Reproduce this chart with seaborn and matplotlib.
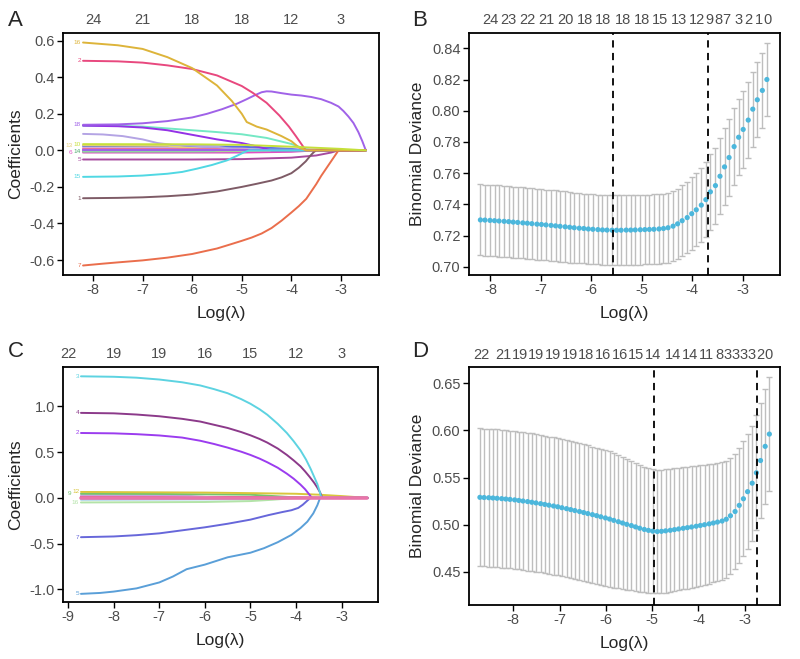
import numpy as np
import pandas as pd
import matplotlib
matplotlib.use("Agg")
import matplotlib.pyplot as plt
import seaborn as sns

sns.set_style("white")
plt.rcParams["font.family"] = ["Liberation Sans", "DejaVu Sans"]
plt.rcParams["axes.unicode_minus"] = False

# ---------------- panel A : coefficient paths ----------------
a_tags = ["6", "", "", "", "14", "", "", "13", "", "", "", "", "", "",
          "5", "15", "1", "7", "18", "2", "16", "10"]
a_tag_col = [1, 0, 0, 0, 0, 0, 0, 1, 0, 0, 0, 0, 0, 0,
             0, 0, 0, 0, 0, 0, 0, 0]
a_colors = ["#E04FC4", "#F1A9D6", "#D4B0E4", "#5C72E0", "#4DA96C", "#A3C4D6",
            "#8ED7A0", "#E6CF7C", "#E8719A", "#B4A4E4", "#74E8C4", "#9432E6",
            "#A062E8", "#A062E8", "#A64A9E", "#50D8E3", "#7E5B66", "#EA6E4C",
            "#A062E8", "#E8487E", "#DDB43A", "#C5E03A"]
a_x = [
    [-8.2, -5.0, -4.0, -3.5, -2.5],
    [-8.2, -5.0, -3.5, -3.0, -2.5],
    [-8.2, -6.0, -4.5, -4.0, -2.5],
    [-8.2, -6.0, -5.0, -4.0, -3.8, -2.5],
    [-8.2, -6.0, -5.0, -4.5, -2.5],
    [-8.2, -5.0, -3.0, -2.5],
    [-8.2, -6.0, -5.0, -4.5, -2.5],
    [-8.2, -6.5, -5.5, -2.5],
    [-8.2, -5.5, -4.5, -2.5],
    [-8.2, -7.8, -7.4, -7.0, -6.7, -6.4, -6.0, -5.5, -5.0, -2.5],
    [-8.2, -7.5, -7.0, -6.5, -6.0, -5.5, -5.0, -4.5, -4.0, -3.75, -3.6, -2.5],
    [-8.2, -7.5, -7.0, -6.5, -6.0, -5.5, -5.0, -4.8, -4.6, -4.4, -2.5],
    [-8.2, -2.5],
    [-8.2, -2.5],
    [-8.2, -7.0, -6.0, -5.0, -4.0, -3.5, -3.2, -3.05, -2.5],
    [-8.2, -7.5, -7.0, -6.5, -6.2, -5.9, -5.6, -5.3, -5.1, -4.95, -4.85, -2.5],
    [-8.2, -7.5, -7.0, -6.5, -6.0, -5.5, -5.0, -4.7, -4.4, -4.2, -4.0, -3.85, -3.71,
     -3.62, -3.55, -3.5, -2.5],
    [-8.2, -7.8, -7.5, -7.0, -6.5, -6.0, -5.5, -5.2, -5.0, -4.8, -4.6, -4.4, -4.2,
     -4.0, -3.85, -3.7, -3.6, -3.5, -3.4, -3.3, -3.2, -3.1, -3.05, -2.5],
    [-8.2, -7.5, -7.0, -6.5, -6.0, -5.7, -5.4, -5.1, -4.9, -4.75, -4.6, -4.5, -4.4,
     -4.2, -4.0, -3.8, -3.6, -3.4, -3.2, -3.05, -2.95, -2.85, -2.75, -2.65, -2.57, -2.5],
    [-8.2, -7.5, -7.0, -6.5, -6.0, -5.5, -5.0, -4.78, -4.5, -4.24, -4.05, -3.91,
     -3.8, -3.71, -2.5],
    [-8.2, -7.5, -7.0, -6.5, -6.0, -5.5, -5.2, -5.0, -4.9, -4.7, -4.5, -4.2, -4.0,
     -3.84, -3.7, -2.5],
    [-8.2, -6.0, -5.0, -4.0, -3.0, -2.5],
]
a_y = [
    [-0.012, -0.012, -0.008, 0.0, 0.0],
    [0.012, 0.011, 0.006, 0.0, 0.0],
    [0.018, 0.017, 0.008, 0.0, 0.0],
    [0.024, 0.023, 0.02, 0.008, 0.0, 0.0],
    [-0.004, -0.004, -0.003, 0.0, 0.0],
    [0.004, 0.004, 0.002, 0.0],
    [-0.007, -0.006, -0.004, 0.0, 0.0],
    [0.028, 0.025, 0.0, 0.0],
    [0.008, 0.007, 0.0, 0.0],
    [0.09, 0.087, 0.078, 0.06, 0.04, 0.03, 0.025, 0.02, 0.0, 0.0],
    [0.135, 0.134, 0.13, 0.12, 0.11, 0.1, 0.088, 0.068, 0.035, 0.01, 0.0, 0.0],
    [0.135, 0.132, 0.125, 0.11, 0.085, 0.06, 0.04, 0.028, 0.015, 0.0, 0.0],
    [0.0, 0.0],
    [0.0, 0.0],
    [-0.05, -0.05, -0.05, -0.048, -0.04, -0.028, -0.012, 0.0, 0.0],
    [-0.145, -0.143, -0.138, -0.128, -0.118, -0.1, -0.08, -0.055, -0.03, -0.01, 0.0, 0.0],
    [-0.262, -0.26, -0.257, -0.251, -0.242, -0.225, -0.2, -0.183, -0.165, -0.148,
     -0.125, -0.095, -0.06, -0.03, -0.01, 0.0, 0.0],
    [-0.63, -0.62, -0.613, -0.602, -0.587, -0.567, -0.537, -0.512, -0.495, -0.477,
     -0.455, -0.425, -0.385, -0.34, -0.305, -0.265, -0.225, -0.185, -0.14, -0.1,
     -0.06, -0.02, 0.0, 0.0],
    [0.14, 0.142, 0.148, 0.16, 0.18, 0.2, 0.225, 0.255, 0.28, 0.3, 0.318, 0.323,
     0.322, 0.313, 0.305, 0.3, 0.292, 0.28, 0.26, 0.24, 0.215, 0.185, 0.15, 0.1,
     0.05, 0.0],
    [0.49, 0.487, 0.48, 0.465, 0.445, 0.41, 0.352, 0.315, 0.26, 0.19, 0.13, 0.078,
     0.035, 0.0, 0.0],
    [0.59, 0.575, 0.555, 0.51, 0.45, 0.355, 0.27, 0.2, 0.155, 0.13, 0.114, 0.078,
     0.05, 0.014, 0.0, 0.0],
    [0.034, 0.033, 0.03, 0.02, 0.008, 0.0],
]
a_top_pos = [-8, -7, -6, -5, -4, -3]
a_top_lab = ["24", "21", "18", "18", "12", "3"]

# ---------------- panel C : coefficient paths ----------------
c_tags = ["", "", "", "16", "9", "12", "7", "5", "2", "4", "3", ""]
c_tag_col = [0, 0, 0, 0, 1, 0, 0, 0, 0, 0, 0, 0]
c_colors = ["#9CCBE3", "#E8416F", "#C9A0DC", "#B3E3A8", "#74C46E", "#D9C63C",
            "#6767DA", "#5A9FD8", "#9B3CEF", "#8C3A8A", "#5DD3E1", "#E874AA"]
c_x = [
    [-8.72, -5.0, -4.0, -2.43],
    [-8.72, -5.0, -4.0, -3.5, -2.43],
    [-8.72, -7.0, -6.3, -5.8, -5.5, -2.43],
    [-8.72, -6.0, -5.0, -4.5, -4.0, -2.43],
    [-8.72, -7.0, -5.0, -4.5, -4.0, -3.8, -2.43],
    [-8.72, -6.0, -5.0, -4.0, -3.5, -3.0, -2.43],
    [-8.72, -8.0, -7.5, -7.0, -6.5, -6.0, -5.5, -5.0, -4.6, -4.3, -4.1, -3.95, -3.85,
     -3.75, -3.68, -2.43],
    [-8.72, -8.3, -8.0, -7.5, -7.0, -6.7, -6.4, -6.0, -5.5, -5.0, -4.7, -4.4, -4.1,
     -3.9, -3.75, -3.62, -3.53, -3.47, -2.43],
    [-8.72, -8.0, -7.5, -7.0, -6.5, -6.1, -5.8, -5.5, -5.2, -5.0, -4.8, -4.63, -4.4,
     -4.2, -4.05, -3.9, -3.8, -3.72, -3.65, -2.43],
    [-8.72, -8.0, -7.5, -7.0, -6.5, -6.1, -5.8, -5.5, -5.2, -5.0, -4.8, -4.63, -4.4,
     -4.2, -4.05, -3.9, -3.8, -3.7, -3.6, -3.54, -3.47, -3.42, -2.43],
    [-8.72, -8.0, -7.5, -7.0, -6.5, -6.1, -5.8, -5.5, -5.2, -5.0, -4.8, -4.63, -4.4,
     -4.2, -4.05, -3.9, -3.78, -3.68, -3.6, -3.53, -3.48, -3.44, -2.43],
    [-8.72, -2.43],
]
c_y = [
    [-0.02, -0.015, 0.0, 0.0],
    [0.012, 0.01, 0.006, 0.0, 0.0],
    [0.03, 0.028, 0.02, 0.005, 0.0, 0.0],
    [-0.05, -0.045, -0.035, -0.02, 0.0, 0.0],
    [0.045, 0.043, 0.035, 0.02, 0.005, 0.0, 0.0],
    [0.065, 0.058, 0.052, 0.045, 0.035, 0.02, 0.0],
    [-0.43, -0.422, -0.408, -0.388, -0.355, -0.322, -0.283, -0.238, -0.188, -0.155,
     -0.135, -0.11, -0.075, -0.03, 0.0, 0.0],
    [-1.05, -1.04, -1.025, -0.99, -0.925, -0.86, -0.78, -0.73, -0.65, -0.6, -0.55,
     -0.485, -0.405, -0.33, -0.26, -0.17, -0.08, 0.0, 0.0],
    [0.71, 0.706, 0.697, 0.683, 0.66, 0.625, 0.59, 0.55, 0.505, 0.47, 0.43, 0.39,
     0.33, 0.265, 0.21, 0.145, 0.095, 0.045, 0.0, 0.0],
    [0.93, 0.925, 0.912, 0.893, 0.865, 0.835, 0.8, 0.765, 0.72, 0.685, 0.645, 0.605,
     0.54, 0.47, 0.41, 0.345, 0.29, 0.23, 0.165, 0.12, 0.06, 0.0, 0.0],
    [1.33, 1.325, 1.315, 1.295, 1.265, 1.23, 1.19, 1.145, 1.08, 1.03, 0.97, 0.91,
     0.81, 0.71, 0.62, 0.52, 0.42, 0.32, 0.23, 0.15, 0.07, 0.0, 0.0],
    [0.0, 0.0],
]
c_top_pos = [-9, -8, -7, -6, -5, -4, -3]
c_top_lab = ["22", "19", "19", "16", "15", "12", "3"]

# ---------------- panel B : cross-validation ----------------
b_loglam = [-8.20, -8.11, -8.01, -7.92, -7.83, -7.73, -7.64, -7.55, -7.46, -7.36,
            -7.27, -7.18, -7.08, -6.99, -6.90, -6.80, -6.71, -6.62, -6.52, -6.43,
            -6.34, -6.24, -6.15, -6.06, -5.97, -5.87, -5.78, -5.69, -5.59, -5.50,
            -5.41, -5.31, -5.22, -5.13, -5.03, -4.94, -4.85, -4.76, -4.66, -4.57,
            -4.48, -4.38, -4.29, -4.20, -4.10, -4.01, -3.92, -3.82, -3.73, -3.64,
            -3.54, -3.45, -3.36, -3.27, -3.17, -3.08, -2.99, -2.89, -2.80, -2.71,
            -2.61, -2.52]
b_mean = [0.7300, 0.7299, 0.7297, 0.7295, 0.7293, 0.7291, 0.7289, 0.7286, 0.7284, 0.7281,
          0.7279, 0.7276, 0.7273, 0.7271, 0.7268, 0.7265, 0.7262, 0.7259, 0.7256, 0.7253,
          0.7250, 0.7247, 0.7245, 0.7242, 0.7240, 0.7238, 0.7236, 0.7235, 0.7234, 0.7234,
          0.7234, 0.7235, 0.7235, 0.7236, 0.7237, 0.7238, 0.7239, 0.7240, 0.7242, 0.7245,
          0.7250, 0.7260, 0.7275, 0.7295, 0.7315, 0.7340, 0.7365, 0.7395, 0.7430, 0.7480,
          0.7520, 0.7580, 0.7640, 0.7700, 0.7770, 0.7830, 0.7880, 0.7940, 0.8010, 0.8070,
          0.8130, 0.8200]
b_se = [0.0228, 0.0228, 0.0228, 0.0228, 0.0228, 0.0228, 0.0228, 0.0228, 0.0228, 0.0228,
        0.0227, 0.0227, 0.0227, 0.0227, 0.0227, 0.0227, 0.0227, 0.0227, 0.0227, 0.0227,
        0.0225, 0.0225, 0.0224, 0.0224, 0.0224, 0.0223, 0.0223, 0.0223, 0.0223, 0.0223,
        0.0223, 0.0223, 0.0223, 0.0223, 0.0223, 0.0223, 0.0223, 0.0223, 0.0223, 0.0223,
        0.0224, 0.0225, 0.0226, 0.0228, 0.0230, 0.0232, 0.0235, 0.0238, 0.0240, 0.0242,
        0.0244, 0.0245, 0.0246, 0.0246, 0.0246, 0.0245, 0.0244, 0.0243, 0.0241, 0.0240,
        0.0238, 0.0236]
b_vlines = [-5.57, -3.69]
b_top_pos = [-8.01, -7.64, -7.27, -6.89, -6.51, -6.13, -5.77, -5.38, -5.00, -4.63,
             -4.26, -3.90, -3.65, -3.49, -3.33, -3.09, -2.89, -2.68, -2.50]
b_top_lab = ["24", "23", "22", "21", "20", "18", "18", "18", "18", "15",
             "13", "12", "9", "8", "7", "3", "2", "1", "0"]

# ---------------- panel D : cross-validation ----------------
d_loglam = [-8.72, -8.63, -8.53, -8.44, -8.35, -8.25, -8.16, -8.07, -7.97, -7.88,
            -7.79, -7.69, -7.60, -7.51, -7.41, -7.32, -7.23, -7.13, -7.04, -6.95,
            -6.85, -6.76, -6.67, -6.57, -6.48, -6.39, -6.29, -6.20, -6.11, -6.01,
            -5.92, -5.83, -5.73, -5.64, -5.55, -5.45, -5.36, -5.27, -5.17, -5.08,
            -4.99, -4.89, -4.80, -4.71, -4.61, -4.52, -4.43, -4.33, -4.24, -4.15,
            -4.05, -3.96, -3.87, -3.77, -3.68, -3.59, -3.49, -3.40, -3.31, -3.21,
            -3.12, -3.03, -2.94, -2.84, -2.75, -2.66, -2.56, -2.47]
d_mean = [0.5290, 0.5288, 0.5286, 0.5283, 0.5280, 0.5276, 0.5272, 0.5268, 0.5263, 0.5257,
          0.5251, 0.5245, 0.5238, 0.5231, 0.5223, 0.5215, 0.5207, 0.5198, 0.5190, 0.5180,
          0.5170, 0.5160, 0.5150, 0.5140, 0.5129, 0.5118, 0.5107, 0.5096, 0.5084, 0.5072,
          0.5060, 0.5046, 0.5032, 0.5018, 0.5004, 0.4991, 0.4977, 0.4963, 0.4950, 0.4940,
          0.4932, 0.4928, 0.4930, 0.4935, 0.4941, 0.4948, 0.4955, 0.4962, 0.4969, 0.4976,
          0.4984, 0.4992, 0.5000, 0.5009, 0.5018, 0.5028, 0.5039, 0.5058, 0.5095, 0.5140,
          0.5205, 0.5275, 0.5350, 0.5440, 0.5550, 0.5680, 0.5830, 0.5960]
d_se = [0.0730, 0.0730, 0.0730, 0.0730, 0.0730, 0.0730, 0.0730, 0.0730, 0.0730, 0.0730,
        0.0730, 0.0730, 0.0729, 0.0729, 0.0728, 0.0728, 0.0727, 0.0727, 0.0726, 0.0726,
        0.0725, 0.0725, 0.0724, 0.0724, 0.0723, 0.0722, 0.0721, 0.0720, 0.0719, 0.0718,
        0.0716, 0.0712, 0.0706, 0.0699, 0.0692, 0.0685, 0.0678, 0.0671, 0.0665, 0.0660,
        0.0657, 0.0655, 0.0654, 0.0653, 0.0652, 0.0651, 0.0650, 0.0648, 0.0646, 0.0644,
        0.0642, 0.0640, 0.0637, 0.0634, 0.0630, 0.0626, 0.0622, 0.0618, 0.0614, 0.0611,
        0.0610, 0.0610, 0.0609, 0.0608, 0.0608, 0.0607, 0.0606, 0.0605]
d_vlines = [-4.96, -2.73]
d_top_pos = [-8.68, -8.22, -7.86, -7.50, -7.14, -6.78, -6.42, -6.06, -5.70, -5.34,
             -4.98, -4.54, -4.18, -3.82, -3.55, -3.37, -3.195, -3.02, -2.845, -2.665, -2.485]
d_top_lab = ["22", "21", "19", "19", "19", "19", "18", "16", "16", "15",
             "14", "14", "14", "11", "8", "3", "3", "3", "3", "2", "0"]

TICK_GREY = "#4d4d4d"
TAG_STEP = 0.17


def style_axes(ax, xlim, ylim, xticks, yticks, yfmt, ylabel, top_pos, top_lab):
    ax.set_xlim(xlim)
    ax.set_ylim(ylim)
    ax.set_xticks(xticks)
    ax.set_xticklabels([str(t) for t in xticks])
    ax.set_yticks(yticks)
    ax.set_yticklabels([yfmt % v for v in yticks])
    ax.set_xlabel("Log(λ)", fontsize=12.5, labelpad=6)
    ax.set_ylabel(ylabel, fontsize=12.5, labelpad=5)
    for s in ax.spines.values():
        s.set_visible(True)
        s.set_linewidth(1.3)
        s.set_color("black")
    ax.tick_params(axis="both", direction="out", length=4, width=1, color="black",
                   labelsize=10.5, labelcolor=TICK_GREY, pad=2,
                   bottom=True, left=True, top=False, right=False)
    top = ax.secondary_xaxis("top")
    top.set_xticks(top_pos, labels=top_lab)
    top.tick_params(length=0, labelsize=10.5, labelcolor=TICK_GREY, pad=4)
    for s in top.spines.values():
        s.set_visible(False)


def coef_panel(ax, xs, ys, colors, tags, cols, thick_last=False):
    rows = []
    for i, (xx, yy) in enumerate(zip(xs, ys)):
        for a, b in zip(xx, yy):
            rows.append((f"v{i}", a, b))
    df = pd.DataFrame(rows, columns=["var", "loglam", "coef"])
    names = [f"v{i}" for i in range(len(xs))]
    pal = dict(zip(names, colors))
    thin = names[:-1] if thick_last else names
    sns.lineplot(data=df[df["var"].isin(thin)], x="loglam", y="coef", hue="var",
                 hue_order=thin, palette=pal, estimator=None, sort=False,
                 legend=False, linewidth=1.4, ax=ax)
    if thick_last:
        sns.lineplot(data=df[df["var"] == names[-1]], x="loglam", y="coef",
                     color=colors[-1], estimator=None, sort=False, linewidth=2.6, ax=ax)
    for xx, yy, col, tag, c in zip(xs, ys, colors, tags, cols):
        if tag:
            ax.text(xx[0] - 0.04 - c * TAG_STEP, yy[0], tag, color=col, fontsize=4.6,
                    ha="right", va="center")


def cv_panel(ax, x, mean, se, vlines):
    ax.errorbar(x, mean, yerr=se, fmt="none", ecolor="#BEBEBE", elinewidth=1,
                capsize=2.2, capthick=1, zorder=1)
    sns.scatterplot(x=x, y=mean, color="#4CB7DC", s=14, edgecolor="none",
                    zorder=3, ax=ax)
    for v in vlines:
        ax.axvline(v, color="black", linestyle=(0, (4, 3)), linewidth=1.3, zorder=4)


fig = plt.figure(figsize=(8, 6.59), dpi=100)
axA = fig.add_axes([0.079, 0.5827, 0.395, 0.3672])
axB = fig.add_axes([0.586, 0.5827, 0.389, 0.3672])
axC = fig.add_axes([0.079, 0.0865, 0.394, 0.3566])
axD = fig.add_axes([0.586, 0.082, 0.389, 0.361])

coef_panel(axA, a_x, a_y, a_colors, a_tags, a_tag_col)
style_axes(axA, (-8.60, -2.23), (-0.682, 0.642), [-8, -7, -6, -5, -4, -3],
           [-0.6, -0.4, -0.2, 0.0, 0.2, 0.4, 0.6], "%.1f", "Coefficients",
           a_top_pos, a_top_lab)

cv_panel(axB, b_loglam, b_mean, b_se, b_vlines)
style_axes(axB, (-8.43, -2.26), (0.6947, 0.8498), [-8, -7, -6, -5, -4, -3],
           [0.70, 0.72, 0.74, 0.76, 0.78, 0.80, 0.82, 0.84], "%.2f",
           "Binomial Deviance", b_top_pos, b_top_lab)

coef_panel(axC, c_x, c_y, c_colors, c_tags, c_tag_col, thick_last=True)
style_axes(axC, (-9.11, -2.19), (-1.139, 1.432), [-9, -8, -7, -6, -5, -4, -3],
           [-1.0, -0.5, 0.0, 0.5, 1.0], "%.1f", "Coefficients",
           c_top_pos, c_top_lab)

cv_panel(axD, d_loglam, d_mean, d_se, d_vlines)
style_axes(axD, (-8.96, -2.24), (0.415, 0.667), [-8, -7, -6, -5, -4, -3],
           [0.45, 0.50, 0.55, 0.60, 0.65], "%.2f", "Binomial Deviance",
           d_top_pos, d_top_lab)

for lab, x, y in [("A", 0.010, 0.9605), ("B", 0.515, 0.9605),
                  ("C", 0.010, 0.4587), ("D", 0.515, 0.4583)]:
    fig.text(x, y, lab, fontsize=16, ha="left", va="baseline")

fig.savefig("out.png", dpi=100)
